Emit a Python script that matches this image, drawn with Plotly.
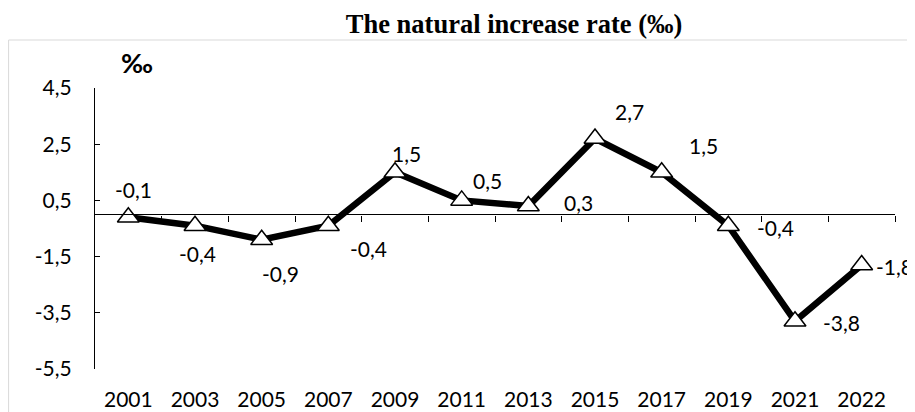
import plotly.graph_objects as go

# ---- data ----
YEARS = ["2001", "2003", "2005", "2007", "2009", "2011", "2013", "2015", "2017", "2019", "2021", "2022"]
RATE = [-0.1, -0.4, -0.9, -0.4, 1.5, 0.5, 0.3, 2.7, 1.5, -0.4, -3.8, -1.8]
Y_TICKS = [-5.5, -3.5, -1.5, 0.5, 2.5, 4.5]
Y_TICK_LABELS = ["-5,5", "-3,5", "-1,5", "0,5", "2,5", "4,5"]
TITLE = "<b>The natural increase rate (‰)</b>"
UNIT = "<b>‰</b>"

# ---- style: label offsets (px) relative to each marker ----
LABEL_SHIFTS = [(5, 28), (2, -28), (19, -34), (40, -23), (11, 19), (26, 20),
                (50, 4), (34, 27), (42, 27), (47, -2), (46, -1), (33, -1)]

xs = list(range(len(YEARS)))
FONT = "Lato"
TXT = 21

fig = go.Figure()
fig.add_trace(go.Scatter(
    x=xs, y=RATE, mode="lines+markers",
    line=dict(color="black", width=6.5),
    marker=dict(symbol="triangle-up", size=19, color="white",
                line=dict(color="black", width=1.5)),
    cliponaxis=False, showlegend=False, hoverinfo="skip",
))
# invisible helper trace so the zero-line axis is drawn
fig.add_trace(go.Scatter(x=xs, y=RATE, mode="lines", line=dict(width=0),
                         xaxis="x2", showlegend=False, hoverinfo="skip"))

for i, (x, v) in enumerate(zip(xs, RATE)):
    dx, dy = LABEL_SHIFTS[i]
    fig.add_annotation(x=x, y=v, text=f"{v:.1f}".replace(".", ","),
                       showarrow=False, xanchor="center", yanchor="middle",
                       xshift=dx, yshift=dy,
                       font=dict(family=FONT, size=TXT, color="black"))

fig.add_annotation(x=0.053, y=1.092, xref="paper", yref="paper", text=UNIT,
                   showarrow=False, xanchor="center", yanchor="middle",
                   font=dict(family=FONT, size=27, color="black"))

# outer chart frame
fig.add_shape(type="rect", xref="paper", yref="paper",
              x0=-0.108, x1=1.06, y0=-0.25, y1=1.1708,
              line=dict(color="#d9d9d9", width=1), layer="below")

# page body has an 8px margin, so the figure is sized/positioned to compensate
fig.update_layout(
    width=907, height=404,
    margin=dict(l=87, r=20, t=80, b=43, autoexpand=False),
    paper_bgcolor="white", plot_bgcolor="white",
    title=dict(text=TITLE, x=0.558, y=0.9604, xref="container", yref="container",
               xanchor="center", yanchor="middle",
               font=dict(family="Liberation Serif", size=26.5, color="black")),
    xaxis=dict(range=[-0.5, len(YEARS) - 0.5], tickvals=xs, ticktext=YEARS,
               showline=False, showgrid=False, zeroline=False, ticks="",
               ticklabelstandoff=16, automargin=False,
               tickfont=dict(family=FONT, size=TXT, color="black")),
    xaxis2=dict(range=[-0.5, len(YEARS) - 0.5], overlaying="x", anchor="free",
                position=0.55, side="bottom", automargin=False,
                tickvals=[i + 0.5 for i in xs], showticklabels=False,
                showline=True, linecolor="black", linewidth=1.3,
                ticks="outside", ticklen=6, tickwidth=1.3, tickcolor="black",
                showgrid=False, zeroline=False),
    yaxis=dict(range=[-5.5, 4.5], tickvals=Y_TICKS, ticktext=Y_TICK_LABELS,
               showline=True, linecolor="black", linewidth=1.3,
               ticks="inside", ticklen=5, tickwidth=1.3, tickcolor="black",
               showgrid=False, zeroline=False, ticklabelstandoff=18,
               automargin=False,
               tickfont=dict(family=FONT, size=TXT, color="black")),
)

fig.write_html("out.html")
